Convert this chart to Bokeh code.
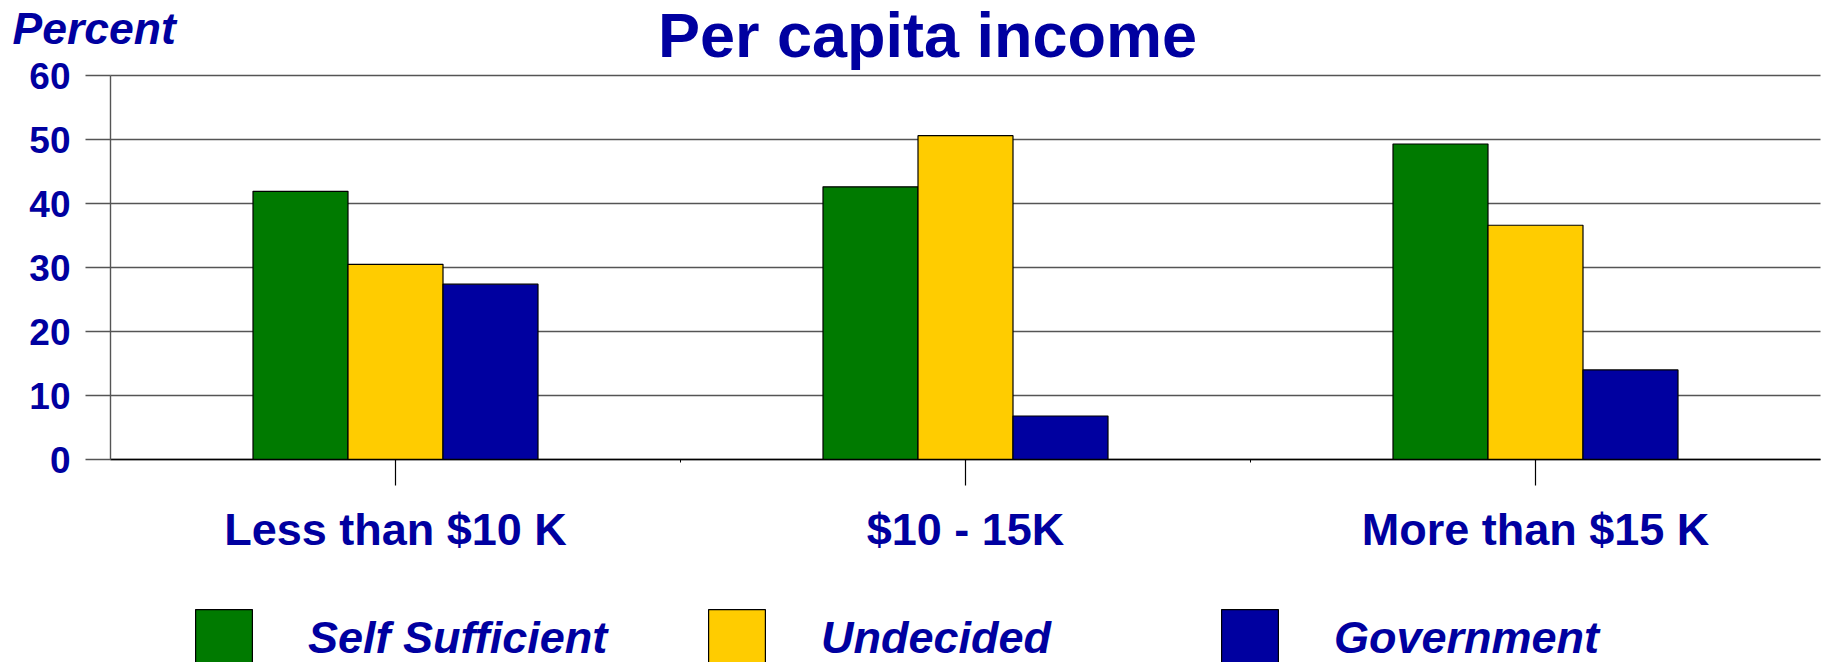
from bokeh.plotting import figure
from bokeh.models import (Range1d, FixedTicker, Label, Legend, LegendItem, ColumnDataSource)
from bokeh.embed import file_html
from bokeh.resources import INLINE

# ---- data ----
categories = ["Less than $10 K", "$10 - 15K", "More than $15 K"]
series_names = ["Self Sufficient", "Undecided", "Government"]
self_sufficient = [41.9, 42.6, 49.3]
undecided = [30.5, 50.6, 36.6]
government = [27.4, 6.8, 14.0]
y_ticks = [0, 10, 20, 30, 40, 50, 60]
title_text = "Per capita income"
y_title = "Percent"

# ---- style / layout ----
colors = ["#007A00", "#FFCC00", "#0000A0"]
NAVY = "#0000A0"
FONT = "Liberation Sans"
W, H = 1828, 662
AX_LEFT, AX_RIGHT = 110, 1820      # pixel x of category axis start / end
Y_ZERO, Y_TOP = 459, 75            # pixel y of value 0 / value 60
ncat = len(categories)
ymax = y_ticks[-1]

px_per_cat = (AX_RIGHT - AX_LEFT) / ncat
px_per_unit = (Y_ZERO - Y_TOP) / ymax
x_range = Range1d(-AX_LEFT / px_per_cat, ncat + (W - AX_RIGHT) / px_per_cat)
y_range = Range1d(-(H - Y_ZERO) / px_per_unit, ymax + Y_TOP / px_per_unit)

p = figure(width=W, height=H, x_range=x_range, y_range=y_range,
           output_backend="svg", toolbar_location=None, min_border=0)
p.min_border_left = p.min_border_right = p.min_border_top = p.min_border_bottom = 0
p.title.visible = False
p.outline_line_color = None
p.background_fill_color = "white"
p.border_fill_color = "white"

centers = [i + 0.5 for i in range(ncat)]
bw = 1 / 6
renderers = []
for k, (vals, c) in enumerate(zip([self_sufficient, undecided, government], colors)):
    src = ColumnDataSource(dict(x=[cx + (k - 1) * bw for cx in centers], top=vals))
    r = p.vbar(x="x", top="top", width=bw, bottom=0, source=src,
               fill_color=c, line_color="black", line_width=1.2)
    renderers.append(r)

# grid
p.xgrid.visible = False
p.ygrid.ticker = FixedTicker(ticks=y_ticks)
p.ygrid.grid_line_color = "#555555"
p.ygrid.grid_line_width = 1.4
p.ygrid.cross_bounds = (0, ncat)

# y axis
ya = p.yaxis[0]
ya.fixed_location = 0
ya.bounds = (0, ymax)
ya.ticker = FixedTicker(ticks=y_ticks)
ya.axis_line_color = "#555555"
ya.axis_line_width = 1.4
ya.major_tick_out = 25
ya.major_tick_in = 0
ya.major_tick_line_color = "#555555"
ya.major_tick_line_width = 1.4
ya.minor_tick_line_color = None
ya.major_label_standoff = 15
ya.major_label_text_font = FONT
ya.major_label_text_font_size = "37px"
ya.major_label_text_font_style = "bold"
ya.major_label_text_color = NAVY

# x axis
xa = p.xaxis[0]
xa.fixed_location = 0
xa.bounds = (0, ncat)
xa.ticker = FixedTicker(ticks=centers, minor_ticks=list(range(1, ncat)))
xa.major_label_overrides = {cx: name for cx, name in zip(centers, categories)}
xa.axis_line_color = "black"
xa.axis_line_width = 1.5
xa.major_tick_out = 26
xa.major_tick_in = 0
xa.major_tick_line_color = "black"
xa.major_tick_line_width = 1.2
xa.minor_tick_out = 3
xa.minor_tick_in = 0
xa.minor_tick_line_color = "black"
xa.major_label_standoff = 18
xa.major_label_text_font = FONT
xa.major_label_text_font_size = "45px"
xa.major_label_text_font_style = "bold"
xa.major_label_text_color = NAVY

# title and y title
p.add_layout(Label(x=927, y=H - 34, x_units="screen", y_units="screen", text=title_text,
                   text_align="center", text_baseline="alphabetic", text_font=FONT,
                   text_font_size="63px", text_font_style="bold", text_color=NAVY))
p.add_layout(Label(x=12, y=H - 28, x_units="screen", y_units="screen", text=y_title,
                   text_align="left", text_baseline="alphabetic", text_font=FONT,
                   text_font_size="44.5px", text_font_style="bold italic", text_color=NAVY))

legend = Legend(items=[LegendItem(label=n, renderers=[r]) for n, r in zip(series_names, renderers)],
                orientation="horizontal", location=(188, -11),
                glyph_width=71, glyph_height=71, label_standoff=49, label_width=393,
                spacing=0, padding=0, margin=0, border_line_alpha=0,
                background_fill_alpha=0, label_text_font=FONT,
                label_text_font_size="45px", label_text_font_style="bold italic",
                label_text_color=NAVY)
p.add_layout(legend, "center")

open("out.html", "w").write(file_html(p, INLINE))
